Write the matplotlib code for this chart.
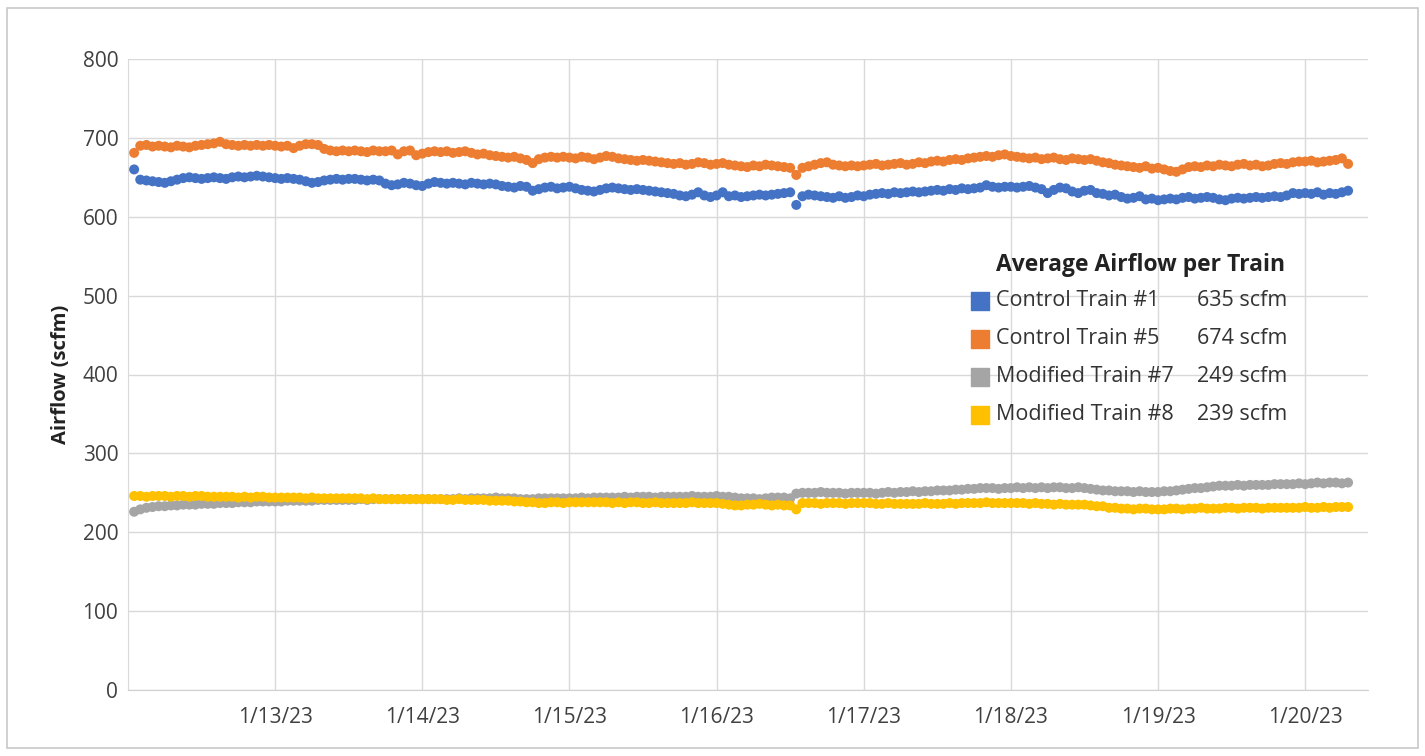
import matplotlib
matplotlib.use("Agg")
import matplotlib.pyplot as plt
import matplotlib.dates as mdates
from matplotlib.patches import Rectangle
import pandas as pd

plt.rcParams['font.family'] = ['Open Sans', 'DejaVu Sans']

# hourly readings, first one at 1/12/23 01:00
control1 = [
    660, 647, 646, 645, 644, 643, 645, 647, 649, 650, 649, 648, 649, 650, 649, 648, 650, 651, 650, 651, 652, 651, 650,
    649, 648, 649, 648, 647, 645, 643, 644, 646, 647, 648, 647, 648, 648, 647, 646, 647, 646, 642, 640, 641, 643, 642, 640,
    639, 642, 644, 643, 642, 643, 642, 641, 643, 642, 641, 642, 641, 639, 638, 637, 639, 638, 633, 635, 637, 638, 636, 637,
    638, 636, 634, 633, 632, 634, 636, 637, 636, 635, 634, 635, 634, 633, 632, 631, 630, 629, 627, 626, 628, 631, 627, 625,
    627, 631, 626, 627, 625, 626, 627, 628, 627, 628, 629, 630, 631, 615, 626, 628, 627, 626, 625, 624, 626, 624, 625, 627,
    626, 628, 629, 630, 629, 631, 630, 631, 632, 631, 632, 633, 634, 633, 635, 634, 636, 635, 636, 637, 640, 638, 637, 638,
    638, 637, 638, 639, 637, 635, 630, 634, 637, 636, 632, 630, 633, 634, 630, 629, 627, 628, 625, 623, 624, 626, 622, 623,
    621, 622, 623, 622, 624, 625, 623, 624, 625, 624, 622, 621, 623, 624, 623, 624, 625, 624, 625, 626, 625, 627, 630, 629,
    630, 629, 631, 628, 630, 629, 631, 633,
]
control5 = [
    681, 690, 691, 689, 690, 689, 688, 690, 689, 688, 690, 691, 692, 693, 695, 692, 691, 690, 691, 690, 691, 690, 691,
    690, 689, 690, 687, 690, 692, 692, 691, 686, 684, 683, 684, 683, 684, 683, 682, 684, 683, 683, 684, 679, 683, 684, 678,
    680, 682, 683, 682, 683, 681, 682, 683, 681, 679, 680, 678, 677, 676, 675, 676, 674, 672, 668, 673, 675, 676, 675, 676,
    675, 674, 676, 675, 673, 675, 677, 676, 674, 673, 672, 671, 672, 671, 670, 669, 668, 667, 668, 666, 667, 669, 668, 666,
    667, 668, 666, 665, 664, 663, 665, 664, 666, 665, 664, 663, 662, 653, 662, 664, 666, 668, 669, 666, 665, 664, 665, 664,
    665, 666, 667, 665, 666, 667, 668, 666, 667, 669, 668, 670, 671, 670, 672, 673, 672, 674, 675, 676, 677, 676, 678, 679,
    677, 676, 675, 674, 675, 673, 674, 675, 673, 672, 674, 673, 672, 673, 671, 669, 668, 666, 665, 664, 663, 662, 664, 661,
    662, 660, 658, 657, 660, 663, 664, 663, 665, 664, 666, 665, 664, 666, 667, 665, 666, 664, 665, 667, 668, 667, 669, 670,
    670, 671, 669, 670, 671, 672, 674, 667,
]
modified7 = [
    226, 229, 231, 232, 233, 233, 234, 234, 235, 235, 235, 236, 236, 236, 237, 237, 237, 238, 238, 238, 239, 239, 239,
    239, 239, 240, 240, 240, 240, 240, 241, 241, 241, 241, 241, 241, 241, 242, 241, 242, 242, 242, 242, 242, 242, 242, 242,
    242, 242, 242, 242, 242, 242, 243, 242, 243, 243, 243, 243, 244, 243, 243, 243, 242, 242, 242, 243, 243, 243, 243, 243,
    243, 243, 244, 243, 244, 244, 244, 244, 244, 245, 244, 245, 245, 245, 244, 245, 245, 245, 245, 245, 246, 245, 245, 245,
    246, 245, 245, 244, 243, 243, 243, 242, 243, 244, 244, 244, 243, 249, 250, 250, 250, 251, 250, 250, 250, 249, 250, 250,
    250, 250, 249, 250, 251, 250, 251, 251, 252, 251, 252, 252, 253, 253, 253, 254, 254, 255, 255, 256, 256, 256, 255, 256,
    256, 257, 256, 257, 256, 257, 256, 257, 257, 256, 256, 257, 256, 255, 254, 253, 253, 252, 252, 252, 251, 252, 251, 251,
    251, 252, 252, 253, 254, 255, 256, 256, 257, 258, 259, 259, 259, 260, 259, 260, 260, 260, 260, 261, 261, 261, 261, 262,
    261, 262, 263, 262, 263, 263, 262, 263,
]
modified8 = [
    246, 246, 245, 246, 246, 246, 245, 246, 246, 245, 246, 246, 245, 245, 245, 245, 245, 244, 245, 244, 245, 245, 244,
    244, 244, 244, 244, 244, 243, 244, 243, 243, 243, 243, 243, 243, 243, 243, 242, 243, 242, 242, 242, 242, 242, 242, 242,
    242, 242, 242, 242, 241, 241, 242, 241, 241, 241, 241, 240, 240, 240, 240, 239, 239, 238, 238, 237, 237, 238, 238, 237,
    238, 238, 238, 238, 238, 238, 238, 237, 238, 237, 238, 238, 237, 237, 238, 237, 237, 237, 237, 237, 238, 237, 237, 237,
    237, 236, 235, 234, 234, 235, 235, 236, 235, 234, 235, 234, 234, 229, 237, 237, 237, 236, 237, 237, 237, 236, 237, 237,
    237, 237, 236, 236, 237, 236, 236, 236, 236, 236, 237, 236, 236, 236, 237, 236, 237, 237, 237, 237, 238, 237, 237, 237,
    237, 237, 237, 236, 237, 236, 236, 235, 236, 235, 235, 235, 235, 234, 233, 233, 231, 231, 230, 230, 229, 230, 230, 229,
    229, 229, 230, 230, 229, 230, 230, 231, 230, 230, 230, 231, 231, 230, 231, 231, 231, 230, 231, 231, 231, 231, 231, 231,
    232, 231, 231, 232, 231, 232, 232, 232,
]

series_names = ["Control Train #1", "Control Train #5", "Modified Train #7", "Modified Train #8"]
averages = [635, 674, 249, 239]
colors = ["#4472C4", "#ED7D31", "#A5A5A5", "#FFC000"]

tick_dates = ["2023-01-13", "2023-01-14", "2023-01-15", "2023-01-16",
              "2023-01-17", "2023-01-18", "2023-01-19", "2023-01-20"]
tick_labels = ["1/13/23", "1/14/23", "1/15/23", "1/16/23",
               "1/17/23", "1/18/23", "1/19/23", "1/20/23"]

fig = plt.figure(figsize=(14.25, 7.56), dpi=100)
ax = fig.add_axes([128 / 1425, 66 / 756, 1240 / 1425, 631 / 756])

# outer frame
fig.patches.append(Rectangle((7 / 1425, 8 / 756), 1411 / 1425, 740 / 756,
                             transform=fig.transFigure, fill=False,
                             edgecolor="#c8c8c8", linewidth=1.2))

for vals, c in zip([control1, control5, modified7, modified8], colors):
    t = pd.date_range("2023-01-12 01:00", periods=len(vals), freq="h")
    ax.scatter(t, vals, s=52, color=c, edgecolors="none", zorder=3)

ax.set_ylim(0, 800)
ax.set_yticks(range(0, 801, 100))
ax.set_xlim(pd.Timestamp("2023-01-12 00:00"), pd.Timestamp("2023-01-20 10:15"))
ax.set_xticks([mdates.date2num(pd.Timestamp(d)) for d in tick_dates])
ax.set_xticklabels(tick_labels)

ax.grid(True, color="#d9d9d9", linewidth=1)
ax.set_axisbelow(True)
for side in ["top", "right"]:
    ax.spines[side].set_visible(False)
ax.spines["left"].set_color("#d9d9d9")
ax.spines["bottom"].set_color("#d0d0d0")
ax.tick_params(length=0, labelsize=15, colors="#404040")
ax.tick_params(axis="y", pad=7)
ax.tick_params(axis="x", pad=12)
ax.set_ylabel("Airflow (scfm)", fontsize=14.5, fontweight="bold", color="#222222", labelpad=8)

# legend block drawn as text
def fx(px):
    return (px - 128) / 1240

def fy(py):
    return (690 - py) / 631

ax.text(fx(996), fy(265), "Average Airflow per Train", transform=ax.transAxes,
        fontsize=16.5, fontweight="bold", color="#222222", va="center", ha="left")
rows = [301, 339, 377, 415]
for name, avg, c, y in zip(series_names, averages, colors, rows):
    ax.scatter([fx(980)], [fy(y)], marker="s", s=170, color=c,
               transform=ax.transAxes, clip_on=False, zorder=4)
    ax.text(fx(996), fy(y), name, transform=ax.transAxes, fontsize=15.5,
            color="#333333", va="center", ha="left")
    ax.text(fx(1197), fy(y), f"{avg} scfm", transform=ax.transAxes, fontsize=15.5,
            color="#333333", va="center", ha="left")

plt.savefig("out.png", dpi=100)
plt.close()
